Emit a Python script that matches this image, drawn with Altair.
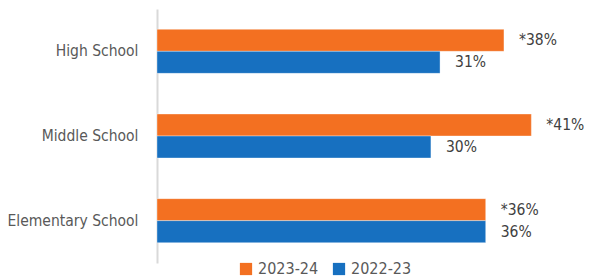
import altair as alt
import pandas as pd

categories = ["High School", "Middle School", "Elementary School"]
years = ["2023-24", "2022-23"]
values_2023_24 = [38, 41, 36]
values_2022_23 = [31, 30, 36]
labels_2023_24 = ["*38%", "*41%", "*36%"]
labels_2022_23 = ["31%", "30%", "36%"]

rows = []
for i, c in enumerate(categories):
    rows.append({"cat": c, "year": years[0], "val": values_2023_24[i], "lab": labels_2023_24[i]})
    rows.append({"cat": c, "year": years[1], "val": values_2022_23[i], "lab": labels_2022_23[i]})
df = pd.DataFrame(rows)

FONT = "DejaVu Sans Condensed, sans-serif"

y_enc = alt.Y("cat:N", sort=categories, title=None,
              scale=alt.Scale(paddingInner=0.48, paddingOuter=0.24),
              axis=alt.Axis(domain=True, domainColor="#D9D9D9", domainWidth=2,
                            ticks=False, grid=False, labelPadding=19,
                            labelFont=FONT, labelFontSize=15.5, labelColor="#595959"))
yoff = alt.YOffset("year:N", sort=years, scale=alt.Scale(paddingInner=0, paddingOuter=0))
x_enc = alt.X("val:Q", scale=alt.Scale(domain=[0, 46], nice=False), axis=None)

bars = alt.Chart(df).mark_bar(stroke="white", strokeWidth=0.6, strokeOpacity=0.6).encode(
    y=y_enc, yOffset=yoff, x=x_enc,
    color=alt.Color("year:N", sort=years,
                    scale=alt.Scale(domain=years, range=["#F37021", "#1770C0"]),
                    legend=alt.Legend(title=None, orient="none", direction="horizontal",
                                      legendX=81, legendY=252, symbolType="square",
                                      symbolSize=150, symbolStrokeWidth=0,
                                      labelFont=FONT, labelFontSize=16, labelColor="#595959",
                                      labelOffset=4, columnPadding=12)),
)

text = alt.Chart(df).mark_text(align="left", baseline="middle", dx=15, font=FONT,
                               fontSize=15.5, fontWeight=500, color="#404040").encode(
    y=alt.Y("cat:N", sort=categories), yOffset=yoff, x=x_enc, text="lab:N"
)

chart = (bars + text).properties(
    width=420, height=254,
    autosize=alt.AutoSizeParams(type="none"),
    padding={"left": 149, "top": 1, "right": 7, "bottom": 30},
).configure_view(stroke=None)

chart.save("out.html", embed_options={"renderer": "svg", "actions": False})
